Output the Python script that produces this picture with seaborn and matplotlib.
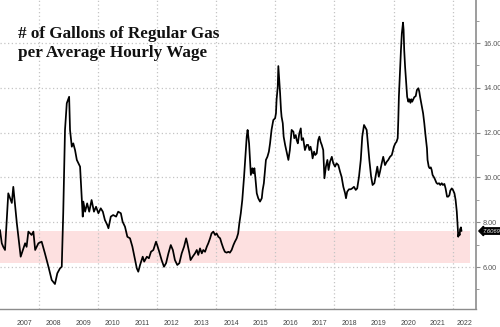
import matplotlib
matplotlib.use("Agg")
import matplotlib.pyplot as plt
import matplotlib.transforms as mtransforms
import numpy as np
import pandas as pd
import seaborn as sns

# ---------------- data ----------------
years = [
    2006.68, 2006.74, 2006.79, 2006.85, 2006.91, 2006.96, 2007.08, 2007.13, 2007.25, 2007.38,
    2007.53, 2007.58, 2007.64, 2007.75, 2007.81, 2007.87, 2007.98, 2008.09, 2008.20, 2008.32,
    2008.43, 2008.54, 2008.62, 2008.71, 2008.77, 2008.82, 2008.88, 2008.94, 2009.02, 2009.05,
    2009.11, 2009.16, 2009.22, 2009.28, 2009.39, 2009.45, 2009.48, 2009.50, 2009.56, 2009.63,
    2009.70, 2009.78, 2009.86, 2009.93, 2010.01, 2010.09, 2010.16, 2010.23, 2010.31, 2010.35,
    2010.43, 2010.51, 2010.61, 2010.68, 2010.77, 2010.83, 2010.91, 2010.99, 2011.08, 2011.16,
    2011.23, 2011.31, 2011.36, 2011.42, 2011.51, 2011.56, 2011.65, 2011.72, 2011.79, 2011.87,
    2011.96, 2012.00, 2012.07, 2012.15, 2012.23, 2012.30, 2012.38, 2012.46, 2012.53, 2012.60,
    2012.68, 2012.75, 2012.83, 2012.91, 2012.98, 2013.02, 2013.09, 2013.13, 2013.20, 2013.28,
    2013.34, 2013.39, 2013.45, 2013.51, 2013.56, 2013.62, 2013.68, 2013.73, 2013.79, 2013.84,
    2013.90, 2013.96, 2014.01, 2014.07, 2014.13, 2014.18, 2014.24, 2014.29, 2014.35, 2014.41,
    2014.46, 2014.52, 2014.58, 2014.63, 2014.69, 2014.74, 2014.78, 2014.83, 2014.88, 2014.94,
    2014.97, 2015.03, 2015.06, 2015.11, 2015.14, 2015.17, 2015.22, 2015.25, 2015.29, 2015.33,
    2015.37, 2015.42, 2015.48, 2015.54, 2015.57, 2015.61, 2015.68, 2015.73, 2015.78, 2015.82,
    2015.87, 2015.93, 2015.99, 2016.02, 2016.04, 2016.08, 2016.10, 2016.16, 2016.19, 2016.21,
    2016.25, 2016.28, 2016.33, 2016.38, 2016.44, 2016.49, 2016.55, 2016.61, 2016.64, 2016.69,
    2016.72, 2016.76, 2016.81, 2016.86, 2016.89, 2016.94, 2017.00, 2017.06, 2017.11, 2017.15,
    2017.19, 2017.23, 2017.26, 2017.31, 2017.35, 2017.40, 2017.45, 2017.49, 2017.53, 2017.57,
    2017.62, 2017.66, 2017.71, 2017.76, 2017.80, 2017.85, 2017.91, 2017.96, 2018.02, 2018.07,
    2018.13, 2018.19, 2018.24, 2018.30, 2018.36, 2018.39, 2018.43, 2018.49, 2018.55, 2018.60,
    2018.66, 2018.72, 2018.77, 2018.83, 2018.89, 2018.94, 2019.00, 2019.06, 2019.09, 2019.12,
    2019.18, 2019.24, 2019.29, 2019.35, 2019.40, 2019.45, 2019.50, 2019.54, 2019.60, 2019.65,
    2019.71, 2019.77, 2019.82, 2019.88, 2019.94, 2019.97, 2020.01, 2020.06, 2020.10, 2020.14,
    2020.16, 2020.18, 2020.22, 2020.25, 2020.28, 2020.32, 2020.34, 2020.36, 2020.39, 2020.43,
    2020.46, 2020.50, 2020.53, 2020.57, 2020.60, 2020.63, 2020.67, 2020.70, 2020.75, 2020.79,
    2020.84, 2020.87, 2020.90, 2020.95, 2021.00, 2021.04, 2021.08, 2021.13, 2021.15, 2021.19,
    2021.22, 2021.26, 2021.29, 2021.32, 2021.37, 2021.40, 2021.45, 2021.49, 2021.54, 2021.58,
    2021.63, 2021.67, 2021.72, 2021.76, 2021.81, 2021.85, 2021.89, 2021.92, 2021.97, 2022.01,
    2022.06, 2022.10, 2022.14, 2022.17, 2022.19, 2022.21, 2022.24, 2022.25, 2022.28, 2022.30,
]
gallons = [
    7.65, 7.06, 6.90, 6.76, 8.10, 9.29, 8.86, 9.58, 7.95, 6.46,
    7.06, 6.90, 7.58, 7.43, 7.58, 6.76, 7.06, 7.13, 6.61, 6.01,
    5.42, 5.24, 5.72, 5.94, 6.01, 8.40, 12.12, 13.31, 13.60, 12.12,
    11.37, 11.52, 11.22, 10.78, 10.48, 8.99, 8.25, 8.92, 8.47, 8.84,
    8.47, 8.99, 8.47, 8.69, 8.40, 8.62, 8.47, 8.10, 7.88, 7.73,
    8.25, 8.32, 8.25, 8.47, 8.40, 8.02, 7.80, 7.35, 7.28, 6.91,
    6.46, 5.94, 5.79, 6.09, 6.46, 6.24, 6.46, 6.39, 6.68, 6.76,
    7.13, 6.98, 6.68, 6.31, 6.01, 6.17, 6.61, 6.98, 6.76, 6.31,
    6.09, 6.17, 6.61, 6.91, 7.28, 7.06, 6.61, 6.31, 6.46, 6.61,
    6.76, 6.54, 6.83, 6.61, 6.76, 6.68, 6.91, 7.06, 7.28, 7.50,
    7.58, 7.43, 7.50, 7.35, 7.28, 7.06, 6.83, 6.68, 6.64, 6.68,
    6.64, 6.76, 6.98, 7.13, 7.28, 7.50, 7.95, 8.40, 8.99, 10.03,
    10.63, 11.82, 12.12, 11.52, 10.78, 10.11, 10.41, 10.18, 10.41, 9.88,
    9.29, 9.07, 8.92, 9.07, 9.44, 9.74, 10.78, 10.92, 11.15, 11.52,
    12.12, 12.56, 12.64, 12.86, 13.46, 14.05, 14.97, 13.75, 13.01, 12.71,
    12.42, 11.82, 11.45, 11.15, 10.78, 11.22, 12.12, 12.04, 11.75, 11.89,
    11.67, 11.52, 11.97, 12.19, 11.67, 11.75, 11.22, 11.45, 11.45, 11.22,
    11.37, 11.15, 10.85, 11.15, 11.00, 11.07, 11.67, 11.82, 11.59, 11.45,
    11.22, 9.96, 10.48, 10.78, 10.33, 10.70, 10.92, 10.63, 10.48, 10.63,
    10.55, 10.25, 10.03, 9.58, 9.29, 9.07, 9.36, 9.47, 9.47, 9.51,
    9.58, 9.44, 9.51, 10.03, 10.78, 11.82, 12.34, 12.19, 12.12, 11.67,
    10.78, 10.03, 9.66, 9.74, 10.11, 10.48, 10.03, 10.25, 10.63, 10.92,
    10.55, 10.70, 10.78, 10.92, 11.00, 11.15, 11.37, 11.52, 11.59, 11.75,
    12.56, 13.60, 14.79, 15.69, 16.43, 16.91, 16.58, 15.69, 14.94, 14.20,
    13.60, 13.38, 13.49, 13.33, 13.49, 13.38, 13.49, 13.58, 13.63, 13.90,
    13.98, 13.83, 13.58, 13.23, 12.86, 12.42, 11.89, 11.30, 10.78, 10.48,
    10.41, 10.45, 10.33, 10.11, 10.00, 9.92, 9.76, 9.71, 9.74, 9.66,
    9.74, 9.66, 9.71, 9.51, 9.14, 9.14, 9.21, 9.41, 9.51, 9.44,
    9.29, 8.99, 8.47, 7.80, 7.35, 7.50, 7.43, 7.68, 7.77, 7.6069,
]
last_label = "7.6069"
band_low, band_high = 6.2, 7.6
band_end_year = 2022.59
year_labels = [str(y) for y in range(2007, 2023)]
y_major = [6, 8, 10, 12, 14, 16]
y_minor = [5, 7, 9, 11, 13, 15, 17]
title_lines = ["# of Gallons of Regular Gas", "per Average Hourly Wage"]

assert len(years) == len(gallons)
df = pd.DataFrame({"year": years, "gallons": gallons})

# ---------------- figure ----------------
sns.set_style("white")
W, H = 500, 327
fig = plt.figure(figsize=(W / 100, H / 100), dpi=100)
ax = fig.add_axes([0, 1 - 309 / H, 476 / W, 309 / H])
x0, x1 = 2006.68, 2022.79
ax.set_xlim(x0, x1)
ax.set_ylim(4.125, 17.92)

grid_c = "#c4c4c4"
# pink band
ax.fill_between([x0, band_end_year], band_low, band_high, color="#fde0e0", lw=0, zorder=0)

# gridlines
for v in y_major:
    ax.axhline(v, color=grid_c, ls=(0, (1, 2)), lw=0.9, zorder=1)
for yr in range(2008, 2023, 2):
    ax.axvline(yr, color=grid_c, ls=(0, (1, 2)), lw=0.9, zorder=1)

sns.lineplot(data=df, x="year", y="gallons", ax=ax, color="black", lw=1.25,
             estimator=None, sort=False, zorder=3)
ax.set_xlabel("")
ax.set_ylabel("")

# spines
for s in ["left", "top"]:
    ax.spines[s].set_visible(False)
ax.spines["right"].set_color("#8c8c8c")
ax.spines["right"].set_linewidth(1.2)
ax.spines["bottom"].set_color("#8c8c8c")
ax.spines["bottom"].set_linewidth(1.0)

# y axis on right
ax.yaxis.tick_right()
ax.set_yticks(y_major)
ax.set_yticklabels([f"{v:.2f}" for v in y_major])
ax.set_yticks(y_minor, minor=True)
ax.tick_params(axis="y", which="major", direction="out", length=3, width=0.8,
               color="#8c8c8c", labelsize=5.2, labelcolor="#555555", pad=2,
               left=False, right=True)
ax.tick_params(axis="y", which="minor", direction="out", length=2, width=0.6,
               color="#8c8c8c", left=False, right=True)
for lab in ax.get_yticklabels():
    lab.set_fontfamily("Liberation Sans")

# x axis: separators at year starts, labels centred in each year
sep = list(range(2007, 2023))
ax.set_xticks(sep)
ax.set_xticklabels([""] * len(sep))
label_pos = [min(int(l) + 0.5, (int(l) + x1) / 2) for l in year_labels]
ax.set_xticks(label_pos, minor=True)
ax.set_xticklabels(year_labels, minor=True)
ax.tick_params(axis="x", which="major", direction="out", length=13.5, width=0.7,
               color="#9a9a9a")
ax.tick_params(axis="x", which="minor", length=0, labelsize=5, labelcolor="#444444",
               pad=8)
for lab in ax.get_xticklabels(minor=True):
    lab.set_fontfamily("Liberation Sans")

# last value tag (kept inside the canvas)
trans = mtransforms.blended_transform_factory(ax.transAxes, ax.transData)
ax.text(1.013, gallons[-1], last_label, transform=trans, ha="left", va="center",
        color="white", fontsize=4.2, style="italic", fontfamily="Liberation Sans",
        bbox=dict(boxstyle="larrow,pad=0.12", fc="black", ec="black"),
        clip_on=False, zorder=5)

# title
fig.text(18 / W, 1 - 38 / H, title_lines[0], fontfamily="Liberation Serif",
         fontweight="bold", fontsize=12.3, color="#111111", va="baseline")
fig.text(18 / W, 1 - 57 / H, title_lines[1], fontfamily="Liberation Serif",
         fontweight="bold", fontsize=12.3, color="#111111", va="baseline")

fig.savefig("out.png", dpi=100)
